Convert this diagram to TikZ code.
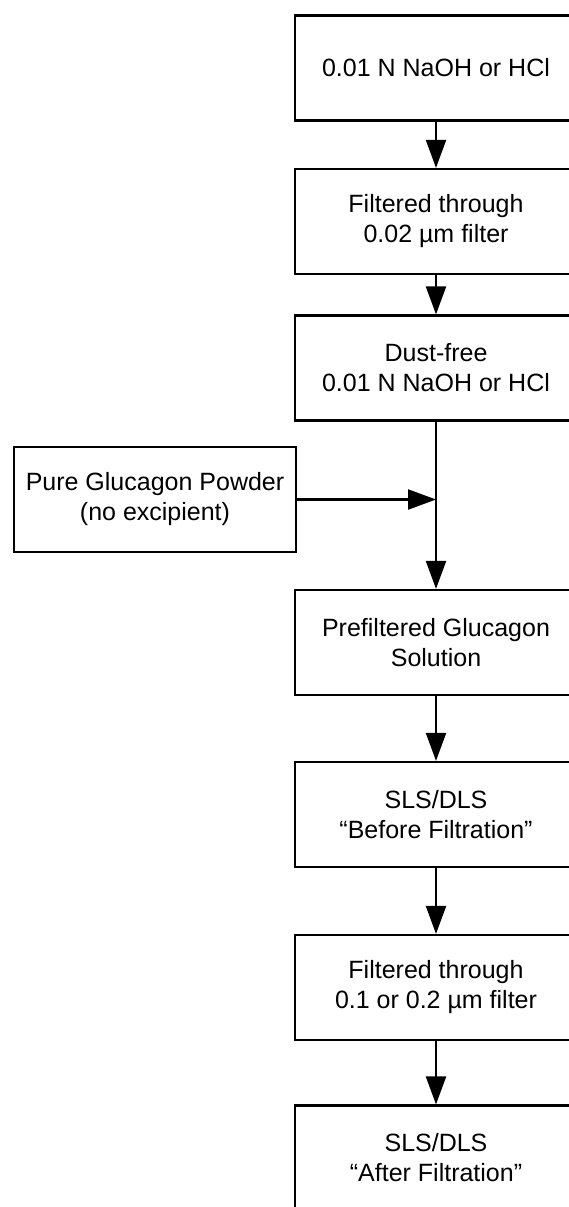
\documentclass[tikz,border=0pt]{standalone}
\usepackage{fontspec}
\setmainfont{Liberation Sans}
\usetikzlibrary{arrows.meta}
\tikzstyle{stage}=[rectangle,draw,line width=2.2pt,minimum width=282pt,minimum height=105pt,inner sep=0pt,align=center,font=\fontsize{25}{30}\selectfont]
\tikzstyle{edge} = [draw,line width=2.2pt,-{Triangle[length=28pt,width=20pt]}]

\begin{document}
\begin{tikzpicture}[x=1pt,y=-1pt]
    \useasboundingbox (0,0) rectangle (569,1207);
    \clip (0,0) rectangle (569,1207);

    % main column
    \foreach \pos/ \name/ \txt in {{(436,68)/solvent/{0.01 N NaOH or HCl}},
        {(436,221.5)/filter1/{Filtered through\\0.02 µm filter}},
        {(436,368)/dustfree/{Dust-free\\0.01 N NaOH or HCl}},
        {(436,642.5)/prefiltered/{Prefiltered Glucagon\\Solution}},
        {(436,814.5)/before/{SLS/DLS\\“Before Filtration”}},
        {(436,987.5)/filter2/{Filtered through\\0.1 or 0.2 µm filter}},
        {(436,1158)/after/{SLS/DLS\\“After Filtration”}}}
        \node[stage] (\name) at \pos {\txt};

    % side input
    \node[stage] (powder) at (155,499.5) {Pure Glucagon Powder\\(no excipient)};
    \coordinate (join) at (dustfree.south |- powder.east);

    % Connect stages
    \foreach \source/ \dest in {solvent/filter1, filter1/dustfree, dustfree/prefiltered,
        prefiltered/before, before/filter2, filter2/after}
        \path[edge] (\source) -- (\dest);
    \path[edge] (powder) -- (join);

\end{tikzpicture}
\end{document}
